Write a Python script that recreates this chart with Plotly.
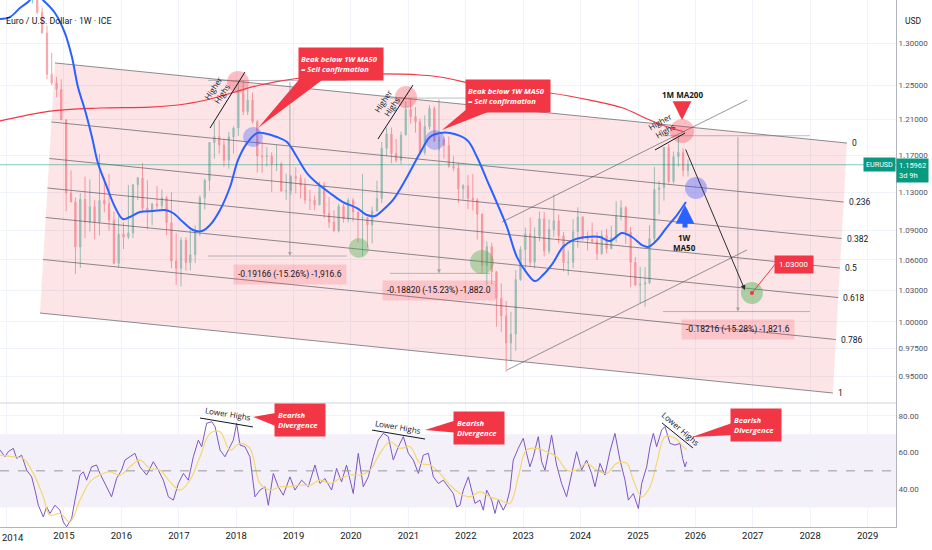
import numpy as np
import pandas as pd
import plotly.graph_objects as go

# ── Price data: EURUSD, monthly OHLC from Jun 2014 to Nov 2025 ────────────────
first_month = '2014-06-01'
opens = [
    1.3634, 1.3692, 1.3390, 1.3131, 1.2631, 1.2525, 1.2452,
    1.2098, 1.1291, 1.1196, 1.0731, 1.1224, 1.0986, 1.1146, 1.0985, 1.1213, 1.1177, 1.1005, 1.0566,
    1.0862, 1.0831, 1.0873, 1.1380, 1.1453, 1.1131, 1.1105, 1.1174, 1.1157, 1.1240, 1.0979, 1.0589,
    1.0517, 1.0798, 1.0574, 1.0652, 1.0896, 1.1242, 1.1426, 1.1842, 1.1906, 1.1813, 1.1646, 1.1904,
    1.2005, 1.2414, 1.2194, 1.2324, 1.2076, 1.1693, 1.1684, 1.1691, 1.1601, 1.1604, 1.1312, 1.1316,
    1.1467, 1.1448, 1.1371, 1.1217, 1.1215, 1.1167, 1.1371, 1.1075, 1.0985, 1.0898, 1.1151, 1.1017,
    1.1213, 1.1091, 1.1027, 1.1031, 1.0955, 1.1101, 1.1234, 1.1778, 1.1937, 1.1721, 1.1646, 1.1926,
    1.2216, 1.2136, 1.2075, 1.1730, 1.2020, 1.2228, 1.1858, 1.1869, 1.1807, 1.1580, 1.1558, 1.1337,
    1.1370, 1.1235, 1.1219, 1.1067, 1.0544, 1.0733, 1.0483, 1.0223, 1.0055, 0.9802, 0.9884, 1.0405,
    1.0705, 1.0863, 1.0576, 1.0839, 1.1019, 1.0689, 1.0910, 1.0999, 1.0844, 1.0573, 1.0577, 1.0886,
    1.1039, 1.0817, 1.0805, 1.0790, 1.0666, 1.0848, 1.0713, 1.0826, 1.1047, 1.1135, 1.0884, 1.0577,
    1.0354, 1.0361, 1.0375, 1.0816, 1.1329, 1.1347, 1.1787, 1.1416, 1.1685, 1.1734, 1.1535,
]
highs = [
    1.3700, 1.3700, 1.3444, 1.3222, 1.2887, 1.2600, 1.2570,
    1.2105, 1.1534, 1.1245, 1.1290, 1.1467, 1.1436, 1.1216, 1.1714, 1.1460, 1.1495, 1.1095, 1.1059,
    1.0985, 1.1376, 1.1384, 1.1464, 1.1616, 1.1428, 1.1186, 1.1366, 1.1327, 1.1258, 1.1300, 1.0875,
    1.0829, 1.0829, 1.0906, 1.0950, 1.1268, 1.1446, 1.1847, 1.2070, 1.2092, 1.1880, 1.1961, 1.2023,
    1.2537, 1.2556, 1.2476, 1.2414, 1.2097, 1.1852, 1.1791, 1.1734, 1.1815, 1.1625, 1.1500, 1.1486,
    1.1570, 1.1489, 1.1448, 1.1324, 1.1264, 1.1412, 1.1412, 1.1249, 1.1109, 1.1179, 1.1175, 1.1240,
    1.1239, 1.1095, 1.1496, 1.1040, 1.1147, 1.1422, 1.1848, 1.2011, 1.2011, 1.1881, 1.1964, 1.2310,
    1.2349, 1.2243, 1.2113, 1.2150, 1.2266, 1.2254, 1.1909, 1.1901, 1.1909, 1.1692, 1.1616, 1.1386,
    1.1483, 1.1495, 1.1235, 1.1076, 1.0787, 1.0774, 1.0486, 1.0369, 1.0198, 1.0094, 1.0497, 1.0736,
    1.0929, 1.1033, 1.0930, 1.1095, 1.1092, 1.1012, 1.1276, 1.1065, 1.0882, 1.0695, 1.1017, 1.1140,
    1.1046, 1.0889, 1.0981, 1.0885, 1.0895, 1.0916, 1.0948, 1.1202, 1.1214, 1.1153, 1.0937, 1.0630,
    1.0533, 1.0529, 1.0955, 1.1573, 1.1420, 1.1790, 1.1829, 1.1743, 1.1918, 1.1778, 1.1655,
]
lows = [
    1.3503, 1.3367, 1.3130, 1.2571, 1.2501, 1.2358, 1.2090,
    1.1098, 1.1195, 1.0462, 1.0520, 1.0819, 1.0889, 1.0809, 1.0848, 1.1087, 1.0896, 1.0558, 1.0524,
    1.0711, 1.0810, 1.0822, 1.1217, 1.1098, 1.0912, 1.0952, 1.1123, 1.1122, 1.0851, 1.0518, 1.0352,
    1.0340, 1.0493, 1.0495, 1.0569, 1.0839, 1.1118, 1.1312, 1.1662, 1.1717, 1.1574, 1.1554, 1.1717,
    1.1915, 1.2154, 1.2154, 1.2055, 1.1510, 1.1508, 1.1576, 1.1301, 1.1526, 1.1302, 1.1216, 1.1269,
    1.1289, 1.1234, 1.1176, 1.1111, 1.1107, 1.1160, 1.1027, 1.0926, 1.0885, 1.0879, 1.0981, 1.0981,
    1.0992, 1.0778, 1.0636, 1.0727, 1.0767, 1.1097, 1.1185, 1.1696, 1.1612, 1.1622, 1.1603, 1.1924,
    1.2054, 1.1952, 1.1704, 1.1704, 1.1986, 1.1847, 1.1752, 1.1664, 1.1563, 1.1524, 1.1186, 1.1222,
    1.1121, 1.1106, 1.0806, 1.0471, 1.0349, 1.0359, 0.9952, 0.9901, 0.9536, 0.9632, 0.9730, 1.0393,
    1.0483, 1.0533, 1.0516, 1.0788, 1.0635, 1.0662, 1.0834, 1.0766, 1.0488, 1.0448, 1.0517, 1.0723,
    1.0795, 1.0695, 1.0767, 1.0601, 1.0650, 1.0668, 1.0709, 1.0778, 1.1002, 1.0761, 1.0332, 1.0343,
    1.0178, 1.0141, 1.0359, 1.0779, 1.1065, 1.1210, 1.1392, 1.1392, 1.1574, 1.1468, 1.1468,
]
closes = [
    1.3692, 1.3390, 1.3131, 1.2631, 1.2525, 1.2452, 1.2098,
    1.1291, 1.1196, 1.0731, 1.1224, 1.0986, 1.1146, 1.0985, 1.1213, 1.1177, 1.1005, 1.0566, 1.0862,
    1.0831, 1.0873, 1.1380, 1.1453, 1.1131, 1.1105, 1.1174, 1.1157, 1.1240, 1.0979, 1.0589, 1.0517,
    1.0798, 1.0574, 1.0652, 1.0896, 1.1242, 1.1426, 1.1842, 1.1906, 1.1813, 1.1646, 1.1904, 1.2005,
    1.2414, 1.2194, 1.2324, 1.2076, 1.1693, 1.1684, 1.1691, 1.1601, 1.1604, 1.1312, 1.1316, 1.1467,
    1.1448, 1.1371, 1.1217, 1.1215, 1.1167, 1.1371, 1.1075, 1.0985, 1.0898, 1.1151, 1.1017, 1.1213,
    1.1091, 1.1027, 1.1031, 1.0955, 1.1101, 1.1234, 1.1778, 1.1937, 1.1721, 1.1646, 1.1926, 1.2216,
    1.2136, 1.2075, 1.1730, 1.2020, 1.2228, 1.1858, 1.1869, 1.1807, 1.1580, 1.1558, 1.1337, 1.1370,
    1.1235, 1.1219, 1.1067, 1.0544, 1.0733, 1.0483, 1.0223, 1.0055, 0.9802, 0.9884, 1.0405, 1.0705,
    1.0863, 1.0576, 1.0839, 1.1019, 1.0689, 1.0910, 1.0999, 1.0844, 1.0573, 1.0577, 1.0886, 1.1039,
    1.0817, 1.0805, 1.0790, 1.0666, 1.0848, 1.0713, 1.0826, 1.1047, 1.1135, 1.0884, 1.0577, 1.0354,
    1.0361, 1.0375, 1.0816, 1.1329, 1.1347, 1.1787, 1.1416, 1.1685, 1.1734, 1.1535, 1.1596,
]
last_price = 1.15962

# ── 1W MA50 (blue): decimal year / price ─────────────────────────────────────
ma50_t = [2013.885, 2014.059, 2014.233, 2014.373, 2014.512, 2014.669, 2014.843, 2015.017, 2015.139,
          2015.244, 2015.366, 2015.488, 2015.592, 2015.749, 2015.889, 2016.028, 2016.150, 2016.324,
          2016.551, 2016.760, 2016.899, 2017.073, 2017.247, 2017.404, 2017.544, 2017.718, 2017.892,
          2018.031, 2018.188, 2018.362, 2018.467, 2018.711, 2018.885, 2019.059, 2019.233, 2019.408,
          2019.634, 2019.861, 2020.105, 2020.279, 2020.418, 2020.557, 2020.732, 2020.976, 2021.202,
          2021.376, 2021.551, 2021.725, 2022.021, 2022.195, 2022.369, 2022.544, 2022.718, 2022.892,
          2023.066, 2023.206, 2023.345, 2023.519, 2023.693, 2023.868, 2024.111, 2024.338, 2024.512,
          2024.721, 2024.895, 2025.070, 2025.174, 2025.331, 2025.505, 2025.679, 2025.836]
ma50_p = [1.3305, 1.3330, 1.3444, 1.3520, 1.3620, 1.3520, 1.3381, 1.3130, 1.2837,
          1.2478, 1.2211, 1.1904, 1.1615, 1.1355, 1.1143, 1.1017, 1.1038, 1.1090,
          1.1101, 1.1111, 1.1080, 1.0986, 1.0904, 1.0893, 1.0955, 1.1111, 1.1355,
          1.1648, 1.1836, 1.1948, 1.1948, 1.1904, 1.1847, 1.1681, 1.1506, 1.1398,
          1.1291, 1.1195, 1.1132, 1.1059, 1.1049, 1.1111, 1.1217, 1.1463, 1.1725,
          1.1904, 1.1948, 1.1948, 1.1870, 1.1681, 1.1430, 1.1185, 1.0934, 1.0629,
          1.0470, 1.0391, 1.0450, 1.0569, 1.0730, 1.0801, 1.0832, 1.0832, 1.0791,
          1.0873, 1.0832, 1.0750, 1.0730, 1.0801, 1.0934, 1.1059, 1.1195]

# ── 1M MA200 (red) ───────────────────────────────────────────────────────────
ma200_t = [2013.885, 2014.756, 2015.627, 2016.498, 2017.108, 2017.544, 2017.979, 2018.415, 2019.111,
           2019.808, 2020.505, 2021.202, 2021.551, 2022.422, 2023.467, 2024.164, 2024.739, 2025.122,
           2025.470, 2025.819]
ma200_p = [1.2085, 1.2199, 1.2234, 1.2245, 1.2280, 1.2338, 1.2420, 1.2502, 1.2585,
           1.2621, 1.2633, 1.2621, 1.2597, 1.2478, 1.2408, 1.2326, 1.2234, 1.2119,
           1.2028, 1.1960]

# ── RSI (purple) and its moving average (yellow) ─────────────────────────────
rsi_t = [2013.885, 2013.972, 2014.030, 2014.117, 2014.175, 2014.262, 2014.350, 2014.437, 2014.495,
         2014.553, 2014.640, 2014.698, 2014.756, 2014.843, 2014.930, 2014.988, 2015.046, 2015.134,
         2015.192, 2015.279, 2015.337, 2015.395, 2015.482, 2015.569, 2015.627, 2015.743, 2015.830,
         2015.917, 2016.005, 2016.063, 2016.150, 2016.237, 2016.324, 2016.440, 2016.556, 2016.643,
         2016.731, 2016.818, 2016.905, 2016.992, 2017.079, 2017.166, 2017.253, 2017.340, 2017.398,
         2017.485, 2017.573, 2017.631, 2017.718, 2017.805, 2017.892, 2017.950, 2018.008, 2018.066,
         2018.153, 2018.240, 2018.327, 2018.415, 2018.502, 2018.560, 2018.647, 2018.734, 2018.821,
         2018.937, 2019.024, 2019.141, 2019.257, 2019.373, 2019.460, 2019.547, 2019.663, 2019.750,
         2019.837, 2019.924, 2020.041, 2020.128, 2020.215, 2020.302, 2020.389, 2020.476, 2020.563,
         2020.650, 2020.737, 2020.825, 2020.912, 2020.999, 2021.086, 2021.173, 2021.260, 2021.347,
         2021.435, 2021.522, 2021.609, 2021.696, 2021.783, 2021.841, 2021.899,
         2021.957, 2022.044, 2022.102, 2022.160, 2022.247, 2022.306, 2022.364, 2022.451, 2022.509,
         2022.567, 2022.654, 2022.712, 2022.770, 2022.828, 2022.915, 2023.002, 2023.060, 2023.118,
         2023.177, 2023.264, 2023.322, 2023.380, 2023.438, 2023.496, 2023.583, 2023.670, 2023.757,
         2023.844, 2023.932, 2024.019, 2024.106, 2024.193, 2024.251, 2024.338, 2024.425, 2024.512,
         2024.599, 2024.687, 2024.774, 2024.832, 2024.919, 2025.006, 2025.064, 2025.151, 2025.209,
         2025.267, 2025.325, 2025.412, 2025.470, 2025.558, 2025.645, 2025.732, 2025.778, 2025.819,
         2025.848]
rsi_v = [61.4, 57.7, 60.5, 62.3, 56.8, 58.6, 50.4, 46.7, 39.5,
         31.2, 24.8, 30.3, 26.7, 31.2, 28.5, 22.1, 19.4, 23.9,
         34.0, 47.7, 49.5, 44.9, 52.2, 53.2, 48.6, 41.3, 35.8,
         45.8, 50.4, 55.9, 57.7, 59.6, 52.2, 47.7, 55.0, 50.4,
         44.9, 35.8, 34.0, 43.1, 48.6, 44.9, 57.7, 66.8, 63.2,
         76.0, 76.9, 74.2, 61.4, 57.7, 63.2, 66.8, 76.0, 64.1,
         63.2, 57.7, 35.8, 39.5, 41.3, 31.2, 48.6, 41.3, 36.7,
         46.7, 39.5, 44.9, 41.3, 53.2, 43.1, 45.8, 39.5, 51.3,
         44.0, 53.2, 37.6, 59.6, 41.3, 46.7, 57.7, 66.8, 70.5,
         68.7, 55.9, 63.2, 68.7, 59.6, 55.9, 48.6, 58.6, 59.6,
         46.7, 43.1, 44.9, 41.3, 37.6, 30.3, 31.2,
         39.5, 46.7, 39.5, 32.2, 34.0, 28.5, 39.5, 34.0, 26.7,
         34.0, 28.5, 32.2, 39.5, 55.9, 62.3, 67.8, 59.6, 52.2,
         57.7, 68.7, 55.0, 50.4, 59.6, 69.6, 53.2, 43.1, 35.8,
         48.6, 60.5, 50.4, 55.9, 48.6, 41.3, 54.1, 47.7, 60.5,
         70.5, 55.9, 44.9, 34.0, 37.6, 29.4, 43.1, 52.2, 63.2,
         70.5, 63.2, 72.3, 74.2, 65.0, 64.1, 65.0, 56.8, 52.2,
         55.0]
rsi_ma_t = [2013.885, 2014.117, 2014.291, 2014.466, 2014.640, 2014.756, 2014.930, 2015.104, 2015.279,
            2015.453, 2015.627, 2015.801, 2015.976, 2016.150, 2016.324, 2016.498, 2016.672, 2016.847,
            2017.021, 2017.195, 2017.369, 2017.544, 2017.718, 2017.892, 2018.066, 2018.240, 2018.415,
            2018.589, 2018.763, 2018.937, 2019.111, 2019.286, 2019.460, 2019.634, 2019.808, 2019.983,
            2020.157, 2020.331, 2020.505, 2020.679, 2020.854, 2021.028, 2021.202, 2021.376, 2021.551,
            2021.725, 2021.899, 2022.073, 2022.247, 2022.422, 2022.596, 2022.770, 2022.915, 2023.060,
            2023.235, 2023.409, 2023.583, 2023.757, 2023.932, 2024.106, 2024.280, 2024.454, 2024.628,
            2024.803, 2024.919, 2025.064, 2025.209, 2025.325, 2025.470, 2025.645, 2025.790, 2025.848]
rsi_ma_v = [58.6, 57.7, 56.8, 48.6, 35.8, 25.8, 26.7, 22.1, 34.0,
            44.0, 47.7, 49.5, 47.7, 52.2, 55.9, 51.3, 50.4, 44.0,
            39.5, 44.9, 57.7, 70.5, 71.4, 61.4, 65.0, 62.3, 43.1,
            39.5, 41.3, 41.3, 42.2, 42.2, 44.9, 43.1, 45.8, 47.7,
            47.7, 50.4, 59.6, 65.9, 62.3, 63.2, 54.1, 53.2, 48.6,
            42.2, 37.6, 35.8, 38.5, 35.8, 34.0, 32.2, 46.7, 61.4,
            62.3, 60.5, 57.7, 50.4, 50.4, 54.1, 50.4, 48.6, 54.1,
            54.1, 44.9, 35.8, 41.3, 54.1, 68.7, 67.8, 63.2, 61.4]

# ── Fib channel and axis ticks ───────────────────────────────────────────────
fib_levels = [0, 0.236, 0.382, 0.5, 0.618, 0.786, 1]
price_ticks = [0.95, 0.975, 1.00, 1.03, 1.06, 1.09, 1.13, 1.17, 1.21, 1.25, 1.30]
rsi_ticks = [40, 60, 80]

# measured drops: label, price at top, price at bottom
measure_labels = ['-0.19166 (-15.26%) -1,916.6', '-0.18820 (-15.23%) -1,882.0', '-0.18216 (-15.28%) -1,821.6']
measure_top = [1.2556, 1.2349, 1.1918]
measure_bottom = [1.06394, 1.04670, 1.00964]


# ── Helpers ──────────────────────────────────────────────────────────────────
def yr(t):
    y = int(np.floor(t))
    start = pd.Timestamp(year=y, month=1, day=1)
    return start + (pd.Timestamp(year=y + 1, month=1, day=1) - start) * (t - y)


def yrs(ts):
    return [yr(t) for t in ts]


lg = np.log10
FONT = 'Roboto, sans-serif'
BOLD = 'Open Sans, sans-serif'
RED = '#f23645'
TEAL = '#089981'
BLUE = '#2962ff'
X0, X1 = 2013.885, 2029.495

candle_dates = pd.date_range(first_month, periods=len(closes), freq='MS') + pd.Timedelta(days=14)

fig = go.Figure()

# candles
fig.add_trace(go.Candlestick(
    x=candle_dates, open=opens, high=highs, low=lows, close=closes,
    increasing=dict(line=dict(color=TEAL, width=1), fillcolor=TEAL),
    decreasing=dict(line=dict(color=RED, width=1), fillcolor=RED),
    opacity=0.45, whiskerwidth=0, hoverinfo='skip', xaxis='x', yaxis='y'))

# fib channel (fill + levels)
top0, top1 = (2014.843, 1.2765), (2028.641, 1.1836)
bot0, bot1 = (2014.582, 1.00824), (2028.397, 0.93495)


def chan_pt(f, a, b):
    t = a[0] + f * (b[0] - a[0])
    p = np.exp(np.log(a[1]) + f * (np.log(b[1]) - np.log(a[1])))
    return t, p


fig.add_trace(go.Scatter(
    x=yrs([top0[0], top1[0], bot1[0], bot0[0], top0[0]]),
    y=[top0[1], top1[1], bot1[1], bot0[1], top0[1]],
    fill='toself', fillcolor='rgba(242,54,69,0.13)', line=dict(width=0),
    mode='lines', hoverinfo='skip'))

fx, fy = [], []
for f in fib_levels:
    (ta, pa), (tb, pb) = chan_pt(f, top0, bot0), chan_pt(f, top1, bot1)
    fx += [yr(ta), yr(tb), None]
    fy += [pa, pb, None]
fig.add_trace(go.Scatter(x=fx, y=fy, mode='lines', line=dict(color='rgba(80,80,90,0.65)', width=1),
                         hoverinfo='skip'))

# thin ascending channel lines
fig.add_trace(go.Scatter(
    x=[yr(2022.631), yr(2026.899), None, yr(2022.718), yr(2026.899)],
    y=[1.0986, 1.2326, None, 0.95546, 1.0700],
    mode='lines', line=dict(color='rgba(80,80,90,0.6)', width=1), hoverinfo='skip'))

# measure tools
meas_t = [(2017.509, 2019.930, 2018.937), (2020.679, 2022.422, 2021.533), (2025.436, 2027.997, 2026.742)]
mx, my = [], []
for (ta, tb, tm), pt, pb in zip(meas_t, measure_top, measure_bottom):
    mx += [yr(ta), yr(tb), None, yr(ta), yr(tb), None]
    my += [pt, pt, None, pb, pb, None]
fig.add_trace(go.Scatter(x=mx, y=my, mode='lines', line=dict(color='rgba(120,123,134,0.5)', width=1),
                         hoverinfo='skip'))

# current price line
fig.add_trace(go.Scatter(x=[yr(X0), yr(X1)], y=[last_price, last_price], mode='lines',
                         line=dict(color='rgba(8,153,129,0.5)', width=1), hoverinfo='skip'))

# moving averages
fig.add_trace(go.Scatter(x=yrs(ma200_t), y=ma200_p, mode='lines', line=dict(color=RED, width=1.2, shape='spline'),
                         hoverinfo='skip'))
fig.add_trace(go.Scatter(x=yrs(ma50_t), y=ma50_p, mode='lines', line=dict(color=BLUE, width=2, shape='spline'),
                         hoverinfo='skip'))

# highlight circles
circles = [
    (2018.031, 1.2537, 22, 'rgba(242,54,69,0.32)'),
    (2018.293, 1.1904, 20, 'rgba(60,90,255,0.35)'),
    (2020.139, 1.0720, 20, 'rgba(76,175,80,0.4)'),
    (2020.958, 1.2361, 22, 'rgba(242,54,69,0.32)'),
    (2021.463, 1.1870, 20, 'rgba(60,90,255,0.35)'),
    (2022.282, 1.0579, 24, 'rgba(76,175,80,0.4)'),
    (2025.767, 1.1971, 24, 'rgba(242,54,69,0.32)'),
    (2026.010, 1.1344, 22, 'rgba(60,90,255,0.38)'),
    (2026.986, 1.0275, 22, 'rgba(76,175,80,0.45)'),
]
for t, p, s, c in circles:
    fig.add_trace(go.Scatter(x=[yr(t)], y=[p], mode='markers', marker=dict(size=s, color=c, line=dict(width=0)),
                             hoverinfo='skip'))

# "Higher Highs" trend lines
fig.add_trace(go.Scatter(
    x=[yr(2017.544), yr(2018.153), None, yr(2020.470), yr(2021.080), None, yr(2025.296), yr(2025.819)],
    y=[1.2005, 1.2656, None, 1.1881, 1.2502, None, 1.1759, 1.1948],
    mode='lines', line=dict(color='#131722', width=1), hoverinfo='skip'))

# red thin line to the 1.03000 label + dot
fig.add_trace(go.Scatter(x=[yr(2026.986), yr(2027.422)], y=[1.0275, 1.0579], mode='lines',
                         line=dict(color=RED, width=1), hoverinfo='skip'))
fig.add_trace(go.Scatter(x=[yr(2026.986)], y=[1.0275], mode='markers', marker=dict(size=4, color=RED),
                         hoverinfo='skip'))

# callout wedges (price pane)
for tip, b1, b2 in [((2018.380, 1.2005), (2019.164, 1.2621), (2019.547, 1.2585)),
                    ((2021.585, 1.1982), (2022.038, 1.2234), (2022.387, 1.2188))]:
    fig.add_trace(go.Scatter(x=yrs([tip[0], b1[0], b2[0], tip[0]]), y=[tip[1], b1[1], b2[1], tip[1]],
                             fill='toself', fillcolor=RED, line=dict(width=0, color=RED), mode='lines',
                             hoverinfo='skip'))

# ── RSI pane ──────────────────────────────────────────────────────────────────
fig.add_trace(go.Scatter(x=yrs(rsi_t), y=rsi_v, mode='lines', line=dict(color='#7e57c2', width=1),
                         xaxis='x', yaxis='y2', hoverinfo='skip'))
fig.add_trace(go.Scatter(x=yrs(rsi_ma_t), y=rsi_ma_v, mode='lines',
                         line=dict(color='#f5d76e', width=1.2, shape='spline'),
                         xaxis='x', yaxis='y2', hoverinfo='skip'))
fig.add_trace(go.Scatter(
    x=[yr(2017.369), yr(2018.293), None, yr(2020.366), yr(2021.289), None, yr(2025.418), yr(2025.958)],
    y=[78.9, 74.0, None, 72.3, 67.4, None, 76.2, 62.5],
    mode='lines', line=dict(color='#131722', width=1), xaxis='x', yaxis='y2', hoverinfo='skip'))
for tip, b1, b2 in [((2018.293, 79.5), (2018.763, 82.0), (2018.763, 73.5)),
                    ((2021.289, 72.3), (2021.899, 78.4), (2021.899, 70.7)),
                    ((2025.941, 68.5), (2026.690, 76.7), (2026.690, 69.6))]:
    fig.add_trace(go.Scatter(x=yrs([tip[0], b1[0], b2[0], tip[0]]), y=[tip[1], b1[1], b2[1], tip[1]],
                             fill='toself', fillcolor=RED, line=dict(width=0, color=RED), mode='lines',
                             xaxis='x', yaxis='y2', hoverinfo='skip'))

# ── Annotations ──────────────────────────────────────────────────────────────
ann = []
dark = '#131722'

# fib level labels
for f in fib_levels:
    tb, pb = chan_pt(f, top1, bot1)
    ann.append(dict(x=yr(tb), y=lg(pb), text=f'{f:g}', showarrow=False, xanchor='left', xshift=3,
                    font=dict(size=8.5, color=dark)))

# measure arrows + labels
label_p = [1.0460, 1.0297, 0.99313]
for (ta, tb, tm), pt, pb, txt, lp in zip(meas_t, measure_top, measure_bottom, measure_labels, label_p):
    ann.append(dict(x=yr(tm), y=lg(pb), ax=yr(tm), ay=lg(pt), axref='x', ayref='y', xref='x', yref='y',
                    text='', showarrow=True, arrowhead=2, arrowsize=0.8, arrowwidth=1,
                    arrowcolor='rgba(120,123,134,0.6)'))
    ann.append(dict(x=yr(tm), y=lg(lp), text=txt, showarrow=False, bgcolor='rgba(242,54,69,0.18)',
                    borderpad=4, font=dict(size=8.5, color=dark)))

# sell confirmation callouts
for t, p in [(2019.826, 1.2758), (2022.744, 1.2373)]:
    ann.append(dict(x=yr(t), y=lg(p), text='<b><i>Beak below 1W MA50<br>= Sell confirmation</i></b>',
                    showarrow=False, align='left', bgcolor=RED, width=80, height=28, borderpad=2,
                    font=dict(size=7.6, color='white', family=BOLD)))

# Higher Highs
for t, p, ang in [(2017.666, 1.2443, -57), (2020.627, 1.2291, -57), (2025.436, 1.2028, -30)]:
    ann.append(dict(x=yr(t), y=lg(p), text='Higher<br>Highs', showarrow=False, textangle=ang,
                    font=dict(size=8, color=dark, family=BOLD)))

# down arrow to the target
ann.append(dict(x=yr(2026.864), y=lg(1.0304), ax=yr(2025.819), ay=lg(1.1781), axref='x', ayref='y',
                text='', showarrow=True, arrowhead=2, arrowsize=1, arrowwidth=1, arrowcolor='#2a2e39'))

# 1.03000 target label
ann.append(dict(x=yr(2027.727), y=lg(1.0554), text='1.03000', showarrow=False, bgcolor=RED, borderpad=4,
                font=dict(size=8, color='white')))

# 1M MA200 / 1W MA50 markers
ann.append(dict(x=yr(2025.767), y=lg(1.2385), text='<b>1M MA200</b>', showarrow=False,
                font=dict(size=8, color=dark, family=BOLD)))
ann.append(dict(x=yr(2025.767), y=lg(1.2096), ax=0, ay=-18, text='', showarrow=True, arrowhead=2,
                arrowsize=0.75, arrowwidth=5, arrowcolor=RED))
ann.append(dict(x=yr(2025.819), y=lg(1.0781), text='<b>1W<br>MA50</b>', showarrow=False,
                font=dict(size=8, color=dark, family=BOLD)))
ann.append(dict(x=yr(2025.819), y=lg(1.1164), ax=0, ay=24, text='', showarrow=True, arrowhead=2,
                arrowsize=0.75, arrowwidth=5, arrowcolor=BLUE))

# RSI pane texts
for t, v, ang in [(2017.857, 81.6, 9), (2020.819, 74.5, 10), (2025.749, 73.4, 41)]:
    ann.append(dict(x=yr(t), y=v, xref='x', yref='y2', text='Lower Highs', showarrow=False, textangle=ang,
                    font=dict(size=8, color=dark, family=BOLD)))
for t, v in [(2019.111, 77.8), (2022.230, 73.6), (2027.056, 74.8)]:
    ann.append(dict(x=yr(t), y=v, xref='x', yref='y2', text='<b><i>Bearish<br>Divergence</i></b>',
                    showarrow=False, align='left', bgcolor=RED, width=44, height=26, borderpad=3,
                    font=dict(size=7.6, color='white', family=BOLD)))

# header, currency, price tags, first year label at the left edge
ann.append(dict(xref='paper', yref='paper', x=0.005, y=0.974, xanchor='left', text='Euro / U.S. Dollar · 1W · ICE',
                showarrow=False, font=dict(size=8.8, color=dark)))
ann.append(dict(xref='paper', yref='paper', x=1.008, y=0.974, xanchor='left', text='USD', showarrow=False,
                font=dict(size=8.5, color=dark)))
ann.append(dict(xref='paper', yref='y', x=1, y=lg(last_price), xanchor='right', text='EURUSD', showarrow=False,
                bgcolor=TEAL, borderpad=2, font=dict(size=7.2, color='white')))
ann.append(dict(xref='paper', yref='y', x=1, y=lg(last_price), xanchor='left', yanchor='top', yshift=7,
                text='1.15962<br>3d 9h', align='left', showarrow=False, bgcolor=TEAL, borderpad=2,
                font=dict(size=7.5, color='white')))
ann.append(dict(xref='paper', yref='paper', x=0, y=0, xanchor='left', yanchor='top', yshift=-3, text='2014',
                showarrow=False, font=dict(size=9.5, color=dark)))

shapes = [
    dict(type='rect', xref='paper', yref='y2', x0=0, x1=1, y0=30, y1=70, fillcolor='rgba(126,87,194,0.09)',
         line=dict(width=0), layer='below'),
    dict(type='line', xref='paper', yref='y2', x0=0, x1=1, y0=50, y1=50,
         line=dict(color='#9598a1', width=1, dash='dash')),
    dict(type='line', xref='paper', yref='paper', x0=0, x1=1, y0=0.2353, y1=0.2353,
         line=dict(color='#d1d4dc', width=1)),
]

fig.update_layout(
    width=932, height=550, margin=dict(l=0, r=36, t=0, b=23),
    paper_bgcolor='white', plot_bgcolor='white', showlegend=False,
    font=dict(family=FONT, color=dark, size=9),
    boxgap=0.6,
    annotations=ann, shapes=shapes,
    xaxis=dict(type='date', range=[yr(X0), yr(X1)], anchor='y2', domain=[0, 1],
               rangeslider=dict(visible=False), showgrid=True, gridcolor='#f0f3fa',
               dtick='M12', tick0='2014-01-01', tickformat='%Y', ticks='', showline=True,
               linecolor='#b2b5be', tickfont=dict(size=9.5, color=dark)),
    yaxis=dict(type='log', domain=[0.2353, 1], range=[lg(0.9262), lg(1.3546)], side='right',
               tickvals=price_ticks, ticktext=[f'{v:.5f}' for v in price_ticks],
               showgrid=True, gridcolor='#f0f3fa', showline=True, linecolor='#b2b5be', ticks='',
               zeroline=False, tickfont=dict(size=8, color='#50535e')),
    yaxis2=dict(domain=[0, 0.2353], range=[19.3, 87.1], side='right', tickvals=rsi_ticks,
                ticktext=[f'{v:.2f}' for v in rsi_ticks], showgrid=True, gridcolor='#f0f3fa',
                showline=True, linecolor='#b2b5be', ticks='', zeroline=False,
                tickfont=dict(size=8, color='#50535e')),
)

# page body margin would push the figure 8px right/down
fig.write_html('out.html', config={'displayModeBar': False},
               post_script="document.body.style.margin='0';")
